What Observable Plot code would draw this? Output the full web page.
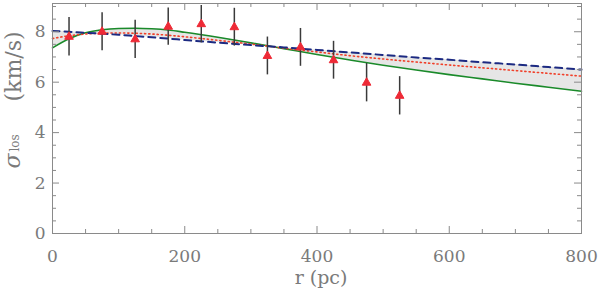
<!DOCTYPE html>
<html>
<head>
<meta charset="utf-8">
<script src="https://cdn.jsdelivr.net/npm/d3@7"></script>
<script src="https://cdn.jsdelivr.net/npm/@observablehq/plot@0.6"></script>
<style>
  html, body { margin: 0; padding: 0; background: #fff; }
</style>
</head>
<body>
<div id="chart"></div>
<script>
// Observed points (r in pc, sigma_los in km/s, error)
const obsR   = [25, 75, 125, 175, 225, 275, 325, 375, 425, 475, 525];
const obsSig = [7.8, 8.0, 7.7, 8.2, 8.3, 8.18, 7.04, 7.38, 6.87, 5.98, 5.46];
const obsErr = [0.76, 0.75, 0.76, 0.74, 0.74, 0.75, 0.75, 0.75, 0.75, 0.76, 0.76];

// Model curves
const modelR      = [0, 25, 50, 75, 100, 125, 150, 175, 200, 250, 300, 350, 400, 450, 500, 550, 600, 650, 700, 750, 800];
const modelSolid  = [7.36, 7.72, 7.96, 8.08, 8.13, 8.14, 8.12, 8.07, 7.98, 7.78, 7.56, 7.33, 7.1, 6.88, 6.67, 6.48, 6.3, 6.13, 5.96, 5.8, 5.64];
const modelDashed = [8.03, 8.0, 7.96, 7.92, 7.88, 7.83, 7.78, 7.73, 7.67, 7.57, 7.47, 7.38, 7.28, 7.18, 7.08, 6.98, 6.89, 6.79, 6.7, 6.6, 6.5];
const modelDotted = [7.73, 7.84, 7.91, 7.94, 7.95, 7.94, 7.91, 7.86, 7.8, 7.66, 7.51, 7.35, 7.2, 7.05, 6.92, 6.8, 6.68, 6.57, 6.46, 6.35, 6.24];

// Ticks
const xLabelTicks = [0, 200, 400, 600, 800];
const xMinorTicks = [50, 100, 150, 250, 300, 350, 450, 500, 550, 650, 700, 750];
const yLabelTicks = [0, 2, 4, 6, 8];
const yMinorTicks = [0.5, 1, 1.5, 2.5, 3, 3.5, 4.5, 5, 5.5, 6.5, 7, 7.5, 8.5, 9];

const points = obsR.map((r, i) => ({r, s: obsSig[i], e: obsErr[i]}));
const model = modelR.map((r, i) => ({
  r, solid: modelSolid[i], dashed: modelDashed[i], dotted: modelDotted[i],
  lo: Math.min(modelSolid[i], modelDashed[i], modelDotted[i]),
  hi: Math.max(modelSolid[i], modelDashed[i], modelDotted[i])
}));

const W = 600, H = 291, mL = 52, mR = 19, mT = 3, mB = 58;
const fw = W - mL - mR, fh = H - mT - mB;
const axisColor = "#8a8a8a";
const majorLen = 7, minorLen = 4;

const chart = Plot.plot({
  width: W, height: H,
  marginLeft: mL, marginRight: mR, marginTop: mT, marginBottom: mB,
  x: {domain: [0, 800]},
  y: {domain: [0, 9.12]},
  style: {fontFamily: "DejaVu Serif", fontSize: "17px", color: "#7a7a7a", background: "#fff"},
  marks: [
    Plot.areaY(model, {x: "r", y1: "lo", y2: "hi", fill: "#e6e6e6", curve: "monotone-x"}),
    Plot.line(model, {x: "r", y: "solid", stroke: "#1a8a2a", strokeWidth: 1.6, curve: "monotone-x"}),
    Plot.line(model, {x: "r", y: "dotted", stroke: "#f0402a", strokeWidth: 1.6, strokeDasharray: "1.2,3", curve: "monotone-x"}),
    Plot.line(model, {x: "r", y: "dashed", stroke: "#1c2a82", strokeWidth: 2, strokeDasharray: "7,5", curve: "monotone-x"}),
    Plot.ruleX(points, {x: "r", y1: d => d.s - d.e, y2: d => d.s + d.e, stroke: "#3a3a3a", strokeWidth: 1.5}),
    Plot.dot(points, {x: "r", y: "s", symbol: "triangle", r: 3.2, fill: "#ee2a36", stroke: "#ee2a36", strokeWidth: 1}),
    // ticks (inward)
    Plot.tickX(xLabelTicks, {x: d => d, stroke: axisColor, insetTop: fh - majorLen}),
    Plot.tickX(xMinorTicks, {x: d => d, stroke: axisColor, insetTop: fh - minorLen}),
    Plot.tickX(xLabelTicks, {x: d => d, stroke: axisColor, insetBottom: fh - majorLen}),
    Plot.tickX(xMinorTicks, {x: d => d, stroke: axisColor, insetBottom: fh - minorLen}),
    Plot.tickY(yLabelTicks, {y: d => d, stroke: axisColor, insetRight: fw - majorLen}),
    Plot.tickY(yMinorTicks, {y: d => d, stroke: axisColor, insetRight: fw - minorLen}),
    Plot.tickY(yLabelTicks, {y: d => d, stroke: axisColor, insetLeft: fw - majorLen}),
    Plot.tickY(yMinorTicks, {y: d => d, stroke: axisColor, insetLeft: fw - minorLen}),
    Plot.frame({stroke: axisColor}),
    Plot.axisX({ticks: xLabelTicks, tickSize: 0, tickPadding: 16, tickFormat: d => String(d), label: null, fontSize: 17}),
    Plot.axisY({ticks: yLabelTicks, tickSize: 0, tickPadding: 7, tickFormat: d => String(d), label: null, fontSize: 17}),
    // axis titles
    Plot.text(["r (pc)"], {frameAnchor: "bottom", dx: 4, dy: 50, fontSize: 19, fill: "#7a7a7a"}),
    Plot.text(["(km/s)"], {frameAnchor: "left", dx: -39, dy: -17, rotate: -90, fontSize: 22, fill: "#7a7a7a"}),
    Plot.text(["los"], {frameAnchor: "left", dx: -37, dy: 33, rotate: -90, fontSize: 12, fill: "#7a7a7a"}),
    Plot.text(["σ"], {frameAnchor: "left", dx: -40, dy: 50, rotate: -90, fontSize: 22, fontStyle: "italic", fill: "#7a7a7a"})
  ]
});
document.getElementById("chart").appendChild(chart);
</script>
</body>
</html>
